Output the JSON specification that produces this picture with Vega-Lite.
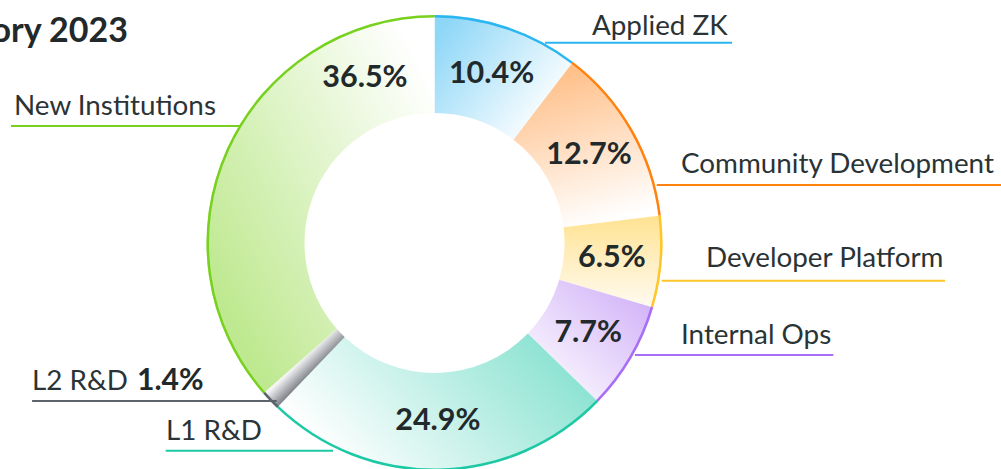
{
  "$schema": "https://vega.github.io/schema/vega-lite/v6.json",
  "width": 1001,
  "height": 469,
  "autosize": "none",
  "padding": 0,
  "background": "white",
  "config": {"view": {"stroke": null}, "font": "Lato"},
  "datasets": {
    "slices": [
      {"cat": "Applied ZK", "value": 10.4},
      {"cat": "Community Development", "value": 12.7},
      {"cat": "Developer Platform", "value": 6.5},
      {"cat": "Internal Ops", "value": 7.7},
      {"cat": "L1 R&D", "value": 24.9},
      {"cat": "L2 R&D", "value": 1.4},
      {"cat": "New Institutions", "value": 36.5}
    ],
    "labels": [
      {"cat": "Applied ZK", "tx": 69.08, "ty": 91.23, "x1": 48.46, "x2": 130.48, "ly": 87.85},
      {"cat": "Community Development", "tx": 108.11, "ty": 30.57, "x1": 97.46, "x2": 250, "ly": 25.44},
      {"cat": "Developer Platform", "tx": 119.08, "ty": -10.39, "x1": 99.6, "x2": 223.9, "ly": -16.54},
      {"cat": "Internal Ops", "tx": 108.11, "ty": -44.43, "x1": 87.9, "x2": 174.9, "ly": -49.12},
      {"cat": "New Institutions", "tx": -184.4, "ty": 56.14, "x1": -185.75, "x2": -85.3, "ly": 51.32},
      {"cat": "L2 R&D", "tx": -176.5, "ty": -64.47, "x1": -176.5, "x2": -69.2, "ly": -69.3},
      {"cat": "L1 R&D", "tx": -117.76, "ty": -86.4, "x1": -117.9, "x2": -44.5, "ly": -91.1}
    ],
    "titles": [
      {"text": "Category 2023", "tx": -134.43, "ty": 88.29}
    ]
  },
  "layer": [
    {
      "data": {"name": "slices"},
      "mark": {"type": "arc", "radius": 228, "radius2": 130},
      "encoding": {
        "x": {"datum": 0, "type": "quantitative", "scale": {"domain": [-190.57, 248.46], "nice": false, "zero": false}, "axis": null},
        "y": {"datum": 0, "type": "quantitative", "scale": {"domain": [-99.12, 106.58], "nice": false, "zero": false}, "axis": null},
        "theta": {"field": "value", "type": "quantitative", "stack": true},
        "order": {"field": "cat", "type": "nominal", "sort": "ascending"},
        "fill": {
          "condition": [
            {"test": "datum.cat === 'Applied ZK'", "value": {"gradient": "linear", "x1": 0, "y1": 0.2, "x2": 0.85, "y2": 0.8, "stops": [{"offset": 0, "color": "#8fd7f7"}, {"offset": 1, "color": "#ffffff"}]}},
            {"test": "datum.cat === 'Community Development'", "value": {"gradient": "linear", "x1": 0.25, "y1": 0, "x2": 0.5, "y2": 1, "stops": [{"offset": 0, "color": "#ffbb80"}, {"offset": 1, "color": "#ffffff"}]}},
            {"test": "datum.cat === 'Developer Platform'", "value": {"gradient": "linear", "x1": 0.5, "y1": 0, "x2": 0.5, "y2": 1, "stops": [{"offset": 0, "color": "#ffe291"}, {"offset": 1, "color": "#fffbf2"}]}},
            {"test": "datum.cat === 'Internal Ops'", "value": {"gradient": "linear", "x1": 1, "y1": 0, "x2": 0.1, "y2": 1, "stops": [{"offset": 0, "color": "#cdaaf7"}, {"offset": 1, "color": "#ffffff"}]}},
            {"test": "datum.cat === 'L1 R&D'", "value": {"gradient": "linear", "x1": 1, "y1": 0.1, "x2": 0, "y2": 0.5, "stops": [{"offset": 0, "color": "#7cdfcc"}, {"offset": 1, "color": "#ffffff"}]}},
            {"test": "datum.cat === 'L2 R&D'", "value": {"gradient": "linear", "x1": 0, "y1": 0, "x2": 1, "y2": 1, "stops": [{"offset": 0.43, "color": "#f5f5f6"}, {"offset": 0.57, "color": "#85888e"}]}},
            {"test": "datum.cat === 'New Institutions'", "value": {"gradient": "linear", "x1": 0.2, "y1": 0.9, "x2": 1, "y2": 0.2, "stops": [{"offset": 0, "color": "#bfe991"}, {"offset": 1, "color": "#ffffff"}]}}
          ],
          "value": "#cccccc"
        }
      }
    },
    {
      "data": {"name": "slices"},
      "mark": {"type": "arc", "radius": 228, "radius2": 225.5},
      "encoding": {
        "x": {"datum": 0, "type": "quantitative", "scale": {"domain": [-190.57, 248.46], "nice": false, "zero": false}, "axis": null},
        "y": {"datum": 0, "type": "quantitative", "scale": {"domain": [-99.12, 106.58], "nice": false, "zero": false}, "axis": null},
        "theta": {"field": "value", "type": "quantitative", "stack": true},
        "order": {"field": "cat", "type": "nominal", "sort": "ascending"},
        "color": {
          "field": "cat", "type": "nominal", "legend": null,
          "scale": {
            "domain": ["Applied ZK", "Community Development", "Developer Platform", "Internal Ops", "L1 R&D", "L2 R&D", "New Institutions"],
            "range": ["#2bb6f0", "#ff820f", "#ffc629", "#a76ff5", "#1dc9a4", "#5d636b", "#77d11e"]
          }
        }
      }
    },
    {
      "data": {"name": "slices"},
      "transform": [{"calculate": "format(datum.value, '.1f') + '%'", "as": "pct"}],
      "mark": {"type": "text", "radius": 178, "fontSize": 30.5, "fontWeight": "bold", "color": "#22292b", "baseline": "middle", "align": "center"},
      "encoding": {
        "x": {"datum": 0, "type": "quantitative", "scale": {"domain": [-190.57, 248.46], "nice": false, "zero": false}, "axis": null},
        "y": {"datum": 0, "type": "quantitative", "scale": {"domain": [-99.12, 106.58], "nice": false, "zero": false}, "axis": null},
        "theta": {"field": "value", "type": "quantitative", "stack": true},
        "order": {"field": "cat", "type": "nominal", "sort": "ascending"},
        "text": {"condition": {"test": "datum.cat === 'L2 R&D' || datum.cat === 'New Institutions'", "value": ""}, "field": "pct"}
      }
    },
    {
      "data": {"name": "slices"},
      "transform": [{"calculate": "format(datum.value, '.1f') + '%'", "as": "pct"}],
      "mark": {"type": "text", "radius": 179, "dx": 93.5, "dy": -91, "fontSize": 30.5, "fontWeight": "bold", "color": "#22292b", "baseline": "middle", "align": "center"},
      "encoding": {
        "x": {"datum": 0, "type": "quantitative", "scale": {"domain": [-190.57, 248.46], "nice": false, "zero": false}, "axis": null},
        "y": {"datum": 0, "type": "quantitative", "scale": {"domain": [-99.12, 106.58], "nice": false, "zero": false}, "axis": null},
        "theta": {"field": "value", "type": "quantitative", "stack": true},
        "order": {"field": "cat", "type": "nominal", "sort": "ascending"},
        "text": {"condition": {"test": "datum.cat !== 'New Institutions'", "value": ""}, "field": "pct"}
      }
    },
    {
      "data": {"name": "labels"},
      "mark": {"type": "rule", "strokeWidth": 2},
      "encoding": {
        "x": {"field": "x1", "type": "quantitative", "scale": {"domain": [-190.57, 248.46], "nice": false, "zero": false}, "axis": null},
        "x2": {"field": "x2"},
        "y": {"field": "ly", "type": "quantitative", "scale": {"domain": [-99.12, 106.58], "nice": false, "zero": false}, "axis": null},
        "color": {"field": "cat", "type": "nominal", "legend": null}
      }
    },
    {
      "data": {"name": "labels"},
      "mark": {"type": "text", "align": "left", "baseline": "alphabetic", "fontSize": 27.8, "color": "#2a3335"},
      "encoding": {
        "x": {"field": "tx", "type": "quantitative", "scale": {"domain": [-190.57, 248.46], "nice": false, "zero": false}, "axis": null},
        "y": {"field": "ty", "type": "quantitative", "scale": {"domain": [-99.12, 106.58], "nice": false, "zero": false}, "axis": null},
        "text": {"field": "cat"}
      }
    },
    {
      "data": {"name": "labels"},
      "transform": [
        {"filter": "datum.cat === 'L2 R&D'"},
        {"lookup": "cat", "from": {"data": {"name": "slices"}, "key": "cat", "fields": ["value"]}},
        {"calculate": "format(datum.value, '.1f') + '%'", "as": "pct"}
      ],
      "mark": {"type": "text", "align": "left", "baseline": "alphabetic", "fontSize": 30, "fontWeight": "bold", "dx": 105, "color": "#22292b"},
      "encoding": {
        "x": {"field": "tx", "type": "quantitative", "scale": {"domain": [-190.57, 248.46], "nice": false, "zero": false}, "axis": null},
        "y": {"field": "ty", "type": "quantitative", "scale": {"domain": [-99.12, 106.58], "nice": false, "zero": false}, "axis": null},
        "text": {"field": "pct"}
      }
    },
    {
      "data": {"name": "titles"},
      "mark": {"type": "text", "align": "right", "baseline": "alphabetic", "fontSize": 34, "fontWeight": "bold", "color": "#22292b"},
      "encoding": {
        "x": {"field": "tx", "type": "quantitative", "scale": {"domain": [-190.57, 248.46], "nice": false, "zero": false}, "axis": null},
        "y": {"field": "ty", "type": "quantitative", "scale": {"domain": [-99.12, 106.58], "nice": false, "zero": false}, "axis": null},
        "text": {"field": "text"}
      }
    }
  ]
}
